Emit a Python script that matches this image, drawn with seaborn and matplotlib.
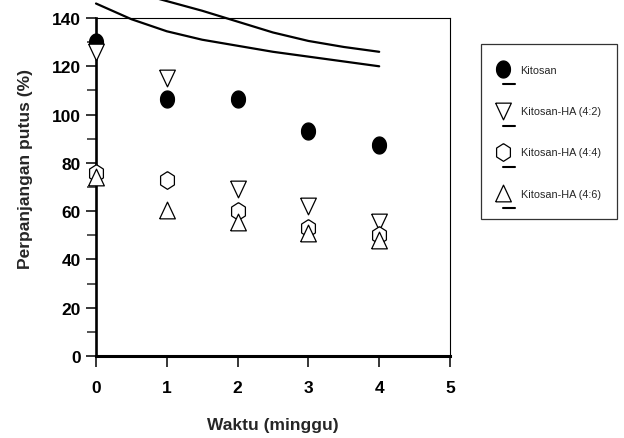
import numpy as np
import pandas as pd
import matplotlib
matplotlib.use("Agg")
import matplotlib.pyplot as plt
import seaborn as sns
from matplotlib.lines import Line2D
from matplotlib.legend_handler import HandlerBase
from matplotlib.ticker import MultipleLocator

# ---------------- data ----------------
weeks = [0, 1, 2, 3, 4]
kitosan = [130, 106.5, 106.5, 93, 87.5]
kitosan_ha_42 = [126, 115, 69, 62, 55.5]
kitosan_ha_44 = [76, 73, 60, 53, 50]
kitosan_ha_46 = [74, 60.5, 55.5, 51, 48]
labels = ["Kitosan", "Kitosan-HA (4:2)", "Kitosan-HA (4:4)", "Kitosan-HA (4:6)"]

curve_x = [0, 0.5, 1, 1.5, 2, 2.5, 3, 3.5, 4]
curve_lower = [146, 139.5, 134.5, 131, 128.5, 126, 124, 122, 120]
curve_upper = [155, 151, 147, 143, 138.5, 134, 130.5, 128, 126]

x_ticks = [0, 1, 2, 3, 4, 5]
y_ticks = [0, 20, 40, 60, 80, 100, 120, 140]

# ---------------- style ----------------
sns.set_style("ticks")
plt.rcParams["font.family"] = ["Liberation Sans", "DejaVu Sans"]

# marker shapes (normalized vertices)
t = np.linspace(0, 2 * np.pi, 60)
ell = [(0.41 * np.cos(a), 0.5 * np.sin(a)) for a in t]
tri_down = [(-0.47, 0.5), (0.47, 0.5), (0.0, -0.5), (-0.47, 0.5)]
tri_up = [(-0.47, -0.5), (0.47, -0.5), (0.0, 0.5), (-0.47, -0.5)]
hexa = [(0, 0.5), (0.39, 0.25), (0.39, -0.25), (0, -0.5), (-0.39, -0.25), (-0.39, 0.25), (0, 0.5)]

series = [
    (kitosan, ell, 17.0, "black"),
    (kitosan_ha_42, tri_down, 16.7, "white"),
    (kitosan_ha_44, hexa, 17.7, "white"),
    (kitosan_ha_46, tri_up, 16.7, "white"),
]

fig = plt.figure(figsize=(6.24, 4.39), dpi=100)
W, H = 624, 439
ax = fig.add_axes([96 / W, (H - 357) / H, (450 - 96) / W, (357 - 19) / H])

# curves
for cy in (curve_lower, curve_upper):
    sns.lineplot(x=curve_x, y=cy, color="black", lw=1.6, ax=ax, clip_on=False,
                 zorder=3, sort=True)

handles = []
for i, (vals, mk, hpx, fc) in enumerate(series):
    size_pt = hpx * 72 / 100
    sns.scatterplot(x=weeks, y=vals, marker=mk, s=size_pt ** 2, color=fc,
                    edgecolor="black", linewidth=0.9, ax=ax, clip_on=False,
                    zorder=4 + i, legend=False)
    handles.append(Line2D([], [], linestyle="none", marker=mk, markersize=size_pt,
                          markerfacecolor=fc, markeredgecolor="black",
                          markeredgewidth=0.9, label=labels[i]))

ax.set_xlim(0, 5)
ax.set_ylim(0, 140)
ax.set_xticks(x_ticks)
ax.set_yticks(y_ticks)
ax.yaxis.set_minor_locator(MultipleLocator(10))

ax.spines["left"].set_linewidth(1.9)
ax.spines["bottom"].set_linewidth(2.2)
ax.spines["top"].set_linewidth(0.8)
ax.spines["right"].set_linewidth(0.8)
for s in ax.spines.values():
    s.set_color("black")

ax.tick_params(axis="x", direction="out", length=8, width=1.1, pad=9.5,
               labelsize=12.5, colors="black")
ax.tick_params(axis="y", which="major", direction="out", length=7.5, width=1.1,
               pad=3.5, labelsize=12.5, colors="black")
ax.tick_params(axis="y", which="minor", direction="out", length=6.5, width=1.1)
for lab in ax.get_xticklabels() + ax.get_yticklabels():
    lab.set_fontweight("bold")

ax.set_xlabel("Waktu (minggu)", fontsize=12.5, fontweight="bold")
ax.set_ylabel("Perpanjangan putus (%)", fontsize=12.5, fontweight="bold")
ax.xaxis.label.set_va("center")
ax.yaxis.label.set_va("center")
ax.xaxis.set_label_coords(0.5, (357 - 426) / 338)
ax.yaxis.set_label_coords((26 - 96) / 354, (357 - 169) / 338)


class MarkerOverLine(HandlerBase):
    def create_artists(self, legend, orig_handle, xdescent, ydescent, width,
                       height, fontsize, trans):
        cy = height / 2 - ydescent
        x0 = -xdescent
        mk = Line2D([x0 + 3.8], [cy], linestyle="none",
                    marker=orig_handle.get_marker(),
                    markersize=orig_handle.get_markersize(),
                    markerfacecolor=orig_handle.get_markerfacecolor(),
                    markeredgecolor="black", markeredgewidth=0.9,
                    transform=trans)
        ln = Line2D([x0 + 3.8, x0 + 12.4], [cy - 10.8, cy - 10.8],
                    color="black", lw=1.5, transform=trans)
        return [mk, ln]


leg = ax.legend(handles=handles, loc="upper left",
                bbox_to_anchor=(481 / W, 1 - 45 / H), bbox_transform=fig.transFigure,
                borderaxespad=0, frameon=True, fancybox=False, edgecolor="black",
                fontsize=7.8, handler_map={Line2D: MarkerOverLine()},
                handlelength=1.6, handleheight=2.0, handletextpad=0.5,
                labelspacing=2.28, borderpad=1.55)
leg.get_frame().set_linewidth(0.9)
leg.set_zorder(10)

fig.savefig("out.png", dpi=100)
